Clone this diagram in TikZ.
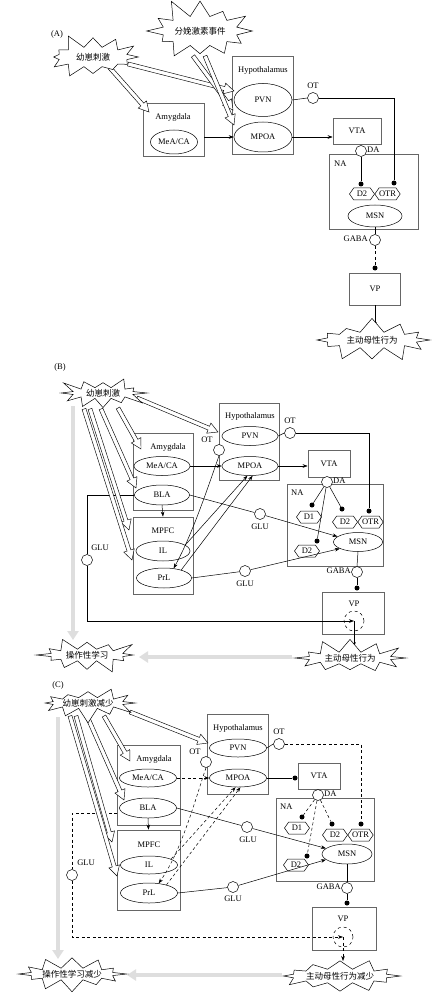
\documentclass[tikz,border=0pt]{standalone}
\usepackage{fontspec}
\setmainfont{Liberation Serif}
\newfontfamily\cjk{Noto Sans CJK SC}
\usetikzlibrary{shapes.geometric,shapes.symbols,arrows.meta,calc}

\tikzset{
 every node/.style={font=\fontsize{8.5}{10}\selectfont, inner sep=0pt},
 box/.style={draw=black!60, line width=0.7pt, rectangle, inner sep=0pt},
 ell/.style={draw, ellipse, line width=0.5pt, inner sep=0pt, fill=white},
 syn/.style={draw, circle, minimum size=11pt, fill=white, line width=0.5pt},
 dsyn/.style={draw, circle, minimum size=20pt, dashed, line width=0.5pt},
 dot/.style={fill=black, circle, minimum size=5pt},
 hex/.style={draw, signal, signal to=east and west, minimum width=25pt, minimum height=12pt, signal pointer angle=110, fill=white, line width=0.5pt},
 burst/.style={draw, starburst, starburst points=12, starburst point height=15pt, random starburst=5, fill=white, line width=0.5pt, font=\cjk\fontsize{8.5}{10}\selectfont},
 ln/.style={line width=0.5pt},
 arr/.style={line width=0.5pt, -{Stealth[length=5pt,width=3.6pt]}},
 dsh/.style={dash pattern=on 3pt off 2.5pt},
 hollowar/.style={draw, fill=white, line width=0.45pt, line join=miter},
 grayar/.style={line width=4pt, draw=black!13, -{Triangle[length=9pt,width=11pt]}},
}

\newcommand{\harr}[2]{%
 \coordinate (hA) at #1; \coordinate (hB) at #2;
 \coordinate (hC) at ($(hB)!10pt!(hA)$);
 \path[hollowar] ($(hA)!2pt!90:(hB)$) -- ($(hC)!2pt!-90:(hA)$) -- ($(hC)!5.5pt!-90:(hA)$) -- (hB) -- ($(hC)!5.5pt!90:(hA)$) -- ($(hC)!2pt!90:(hA)$) -- ($(hA)!2pt!-90:(hB)$) -- cycle;}

\begin{document}
\begin{tikzpicture}[x=1pt,y=-1pt]
\useasboundingbox[fill=white] (0,0) rectangle (437,1000);

%%%%%%%%%%%%%%%% PANEL A
\node (labA) at (57,34) {(A)};
\node[box, minimum width=61pt, minimum height=98pt] (hypA) at (262.5,105) {};
\node (hypAt) at (263,70) {Hypothalamus};
\node[box, minimum width=61pt, minimum height=53pt] (amyA) at (173.5,129.5) {};
\node (amyAt) at (173,117) {Amygdala};
\node[box, minimum width=48pt, minimum height=26pt] (vtaA) at (357,131) {VTA};
\node[box, minimum width=89pt, minimum height=75pt] (naA) at (373.5,191.5) {};
\node[anchor=west] (naAt) at (334,164) {NA};
\node[box, minimum width=51pt, minimum height=32pt] (vpA) at (375,289) {VP};

\node[ell, minimum width=58pt, minimum height=33pt] (pvnA) at (263,100) {PVN};
\node[ell, minimum width=58pt, minimum height=30pt] (mpoaA) at (263,137) {MPOA};
\node[ell, minimum width=47pt, minimum height=24pt] (meaA) at (174,142) {MeA/CA};
\node[ell, minimum width=54pt, minimum height=22pt] (msnA) at (375,216) {MSN};
\node[hex] (d2A) at (362,194) {D2};
\node[hex] (otrA) at (387.5,194) {OTR};
\node[dot] (d2Ad) at (361,184) {};
\node[dot] (otrAd) at (394,183) {};

\node[syn] (otA) at (313,98) {};
\node (otAt) at (313,86) {OT};
\node[syn] (daA) at (361,151) {};
\node[anchor=west] (daAt) at (367,150) {DA};
\node[syn] (gabaA) at (375,240) {};
\node[anchor=east] (gabaAt) at (368,239) {GABA};
\node[dot] (gdA) at (375,268) {};
\coordinate (matAin) at (375,327);

\draw[ln] (pvnA.east) -- (otA.west);
\draw[ln] (otA.east) -| (otrAd.north);
\draw[ln] (daA.south) -- (d2Ad.north);
\draw[arr] (amyA.east |- mpoaA.west) -- (mpoaA.west);
\draw[arr] (mpoaA.east) -- (vtaA.west |- mpoaA.east);
\draw[ln] (msnA.south) -- (gabaA.north);
\draw[ln, dsh] (gabaA.south) -- (gdA.north);
\draw[arr] (vpA.south) -- (matAin);

\harr{(110,68)}{(149,112)}
\harr{(128,64)}{(234,91)}
\harr{(193,56)}{(233,110)}
\harr{(205,56)}{(234,125)}

\node[burst, minimum width=100pt, minimum height=50pt] (kidA) at (93,57) {幼崽刺激};
\node[burst, minimum width=116pt, minimum height=70pt, random starburst=11, starburst point height=20pt] (horA) at (200,31) {分娩激素事件};
\node[burst, minimum width=122pt, minimum height=46pt, random starburst=7] (matA) at (372,340) {主动母性行为};

%%%%%%%%%%%%%%%% PANEL B
\node (labB) at (60,367) {(B)};
\coordinate (gB1) at (73,406); \coordinate (gB2) at (73,640);
\coordinate (gB3) at (292,657); \coordinate (gB4) at (139,657);
\draw[grayar] (gB1) -- (gB2);
\draw[grayar] (gB3) -- (gB4);

\node[box, minimum width=60pt, minimum height=77pt] (hypB) at (249,441.5) {};
\node (hypBt) at (250,416) {Hypothalamus};
\node[box, minimum width=60pt, minimum height=77pt] (amyB) at (163,471.5) {};
\node (amyBt) at (168,447) {Amygdala};
\node[box, minimum width=60pt, minimum height=77pt] (mpfcB) at (163,555.5) {};
\node (mpfcBt) at (163,531) {MPFC};
\node[box, minimum width=42pt, minimum height=27pt] (vtaB) at (329,463.5) {VTA};
\node[box, minimum width=96pt, minimum height=82pt] (naB) at (335,525) {};
\node[anchor=west] (naBt) at (291,493) {NA};
\node[box, minimum width=62pt, minimum height=42pt] (vpB) at (353,613) {};
\node (vpBt) at (354,604) {VP};

\node[ell, minimum width=56pt, minimum height=19pt] (pvnB) at (250,436) {PVN};
\node[ell, minimum width=56pt, minimum height=19pt] (mpoaB) at (250,466) {MPOA};
\node[ell, minimum width=56pt, minimum height=19pt] (meaB) at (162,466) {MeA/CA};
\node[ell, minimum width=55pt, minimum height=20pt] (blaB) at (162,495) {BLA};
\node[ell, minimum width=54pt, minimum height=20pt] (ilB) at (163,551) {IL};
\node[ell, minimum width=55pt, minimum height=20pt] (prlB) at (164,578) {PrL};
\node[ell, minimum width=49pt, minimum height=19pt] (msnB) at (358,542) {MSN};

\node[hex] (d1B) at (309,517) {D1};
\node[hex] (d2rB) at (345,522) {D2};
\node[hex] (otrB) at (370.5,522) {OTR};
\node[hex] (d2lB) at (307,551) {D2};
\node[dot] (d1Bd) at (312,505) {};
\node[dot] (d2rBd) at (342,509) {};
\node[dot] (otrBd) at (369,511) {};
\node[dot] (d2lBd) at (317,541) {};

\node[syn] (otRB) at (290,433) {};
\node (otRBt) at (290,421) {OT};
\node[syn] (otLB) at (219,450) {};
\node (otLBt) at (207,440) {OT};
\node[syn] (daB) at (327,482) {};
\node[anchor=west] (daBt) at (333,481) {DA};
\node[syn] (gluMB) at (260,514) {};
\node (gluMBt) at (260,527) {GLU};
\node[syn] (gluLB) at (245,571) {};
\node (gluLBt) at (245,584) {GLU};
\node[syn] (gluLeftB) at (87,560) {};
\node (gluLeftBt) at (100,548) {GLU};
\node[syn] (gabaB) at (357,572) {};
\node[anchor=east] (gabaBt) at (351,571) {GABA};
\node[dot] (gdB) at (357,588) {};
\node[dsyn] (vpcB) at (354,621) {};
\coordinate (matBin) at (354,647);

\draw[arr] (meaB.east) -- (mpoaB.west);
\draw[arr] (mpoaB.east) -- (vtaB.west |- mpoaB.east);
\draw[ln] (pvnB.east) -- (otRB.west);
\draw[ln] (otRB.east) -| (otrBd.north);
\draw[ln] (daB) -- (d1Bd);
\draw[ln] (daB) -- (d2rBd);
\draw[ln] (daB) -- (d2lBd);
\draw[arr] (blaB.south) -- (mpfcB.north);
\draw[ln] (blaB.east) -- (gluMB);
\draw[arr] (gluMB) -- (msnB.165);
\draw[ln] (prlB.east) -- (gluLB);
\draw[arr] (gluLB) -- (msnB.200);
\draw[ln] (blaB.west) -| (gluLeftB.north);
\draw[arr] (gluLeftB.south) |- (vpcB.center);
\draw[arr] (vpcB.center) -- (matBin);
\draw[ln] (msnB.south) -- (gabaB.north);
\draw[ln] (gabaB.south) -- (gdB.north);
\draw[arr] (ilB.15) -- (mpoaB.255);
\draw[arr] (prlB.25) -- (mpoaB.285);
\draw[arr] (otLB.south) .. controls (207,490) and (192,535) .. (prlB.45);

\harr{(137,398)}{(218,432)}
\harr{(118,408)}{(141,449)}
\harr{(101,409)}{(136,488)}
\harr{(90,409)}{(129,530)}
\harr{(84,409)}{(132,560)}

\node[burst, minimum width=92pt, minimum height=38pt, random starburst=3] (kidB) at (103,393) {幼崽刺激};
\node[burst, minimum width=104pt, minimum height=42pt, random starburst=9] (learnB) at (87,655) {操作性学习};
\node[burst, minimum width=114pt, minimum height=42pt, random starburst=4] (matB) at (350,658) {主动母性行为};

%%%%%%%%%%%%%%%% PANEL C
\node (labC) at (58,685) {(C)};
\coordinate (gC1) at (58,717); \coordinate (gC2) at (58,959);
\coordinate (gC3) at (282,975); \coordinate (gC4) at (127,975);
\draw[grayar] (gC1) -- (gC2);
\draw[grayar] (gC3) -- (gC4);

\node[box, minimum width=61pt, minimum height=80pt] (hypC) at (237.5,754) {};
\node (hypCt) at (238,728) {Hypothalamus};
\node[box, minimum width=63pt, minimum height=80pt] (amyC) at (148.5,785) {};
\node (amyCt) at (154,759) {Amygdala};
\node[box, minimum width=63pt, minimum height=80pt] (mpfcC) at (148.5,870) {};
\node (mpfcCt) at (149,845) {MPFC};
\node[box, minimum width=42pt, minimum height=26pt] (vtaC) at (319,776) {VTA};
\node[box, minimum width=98pt, minimum height=83pt] (naC) at (325,839.5) {};
\node[anchor=west] (naCt) at (280,807) {NA};
\node[box, minimum width=64pt, minimum height=43pt] (vpC) at (344,928.5) {};
\node (vpCt) at (343,919) {VP};

\node[ell, minimum width=57pt, minimum height=18pt] (pvnC) at (238,748) {PVN};
\node[ell, minimum width=57pt, minimum height=18pt] (mpoaC) at (238,778) {MPOA};
\node[ell, minimum width=57pt, minimum height=18pt] (meaC) at (148,778) {MeA/CA};
\node[ell, minimum width=57pt, minimum height=20pt] (blaC) at (148,808) {BLA};
\node[ell, minimum width=57pt, minimum height=18pt] (ilC) at (149,865) {IL};
\node[ell, minimum width=57pt, minimum height=20pt] (prlC) at (149,893) {PrL};
\node[ell, minimum width=50pt, minimum height=20pt] (msnC) at (347,854) {MSN};

\node[hex] (d1C) at (297,828) {D1};
\node[hex] (d2rC) at (335,835) {D2};
\node[hex] (otrC) at (360.5,835) {OTR};
\node[hex] (d2lC) at (296,865) {D2};
\node[dot] (d1Cd) at (302,817) {};
\node[dot] (d2rCd) at (332,824) {};
\node[dot] (otrCd) at (361,824) {};
\node[dot] (d2lCd) at (307,856) {};

\node[syn] (otRC) at (279,744) {};
\node (otRCt) at (279,732) {OT};
\node[syn] (otLC) at (206,762) {};
\node (otLCt) at (195,752) {OT};
\node[syn] (daC) at (318,795) {};
\node[anchor=west] (daCt) at (324,794) {DA};
\node[syn] (gluMC) at (247,827) {};
\node (gluMCt) at (248,840) {GLU};
\node[syn] (gluLC) at (233,887) {};
\node (gluLCt) at (233,899) {GLU};
\node[syn] (gluLeftC) at (72,875) {};
\node (gluLeftCt) at (86,863) {GLU};
\node[syn] (gabaC) at (347,888) {};
\node[anchor=east] (gabaCt) at (341,887) {GABA};
\node[dot] (gdC) at (347,903) {};
\node[dsyn] (vpcC) at (343,937) {};
\node[dot] (vtaCd) at (295,778) {};
\coordinate (matCin) at (343,961);
\coordinate (amyCl) at (117,813);

\draw[arr, dsh] (meaC.east) -- (mpoaC.west);
\draw[ln] (mpoaC.east) -- (vtaCd.west);
\draw[ln] (pvnC.east) -- (otRC.west);
\draw[ln, dsh] (otRC.east) -| (otrCd.north);
\draw[ln, dsh] (daC) -- (d1Cd);
\draw[ln, dsh] (daC) -- (d2rCd);
\draw[ln, dsh] (daC) -- (d2lCd);
\draw[arr] (blaC.south) -- (mpfcC.north);
\draw[ln] (blaC.east) -- (gluMC);
\draw[arr] (gluMC) -- (msnC.165);
\draw[ln] (prlC.east) -- (gluLC);
\draw[arr] (gluLC) -- (msnC.195);
\draw[ln, dsh] (amyCl) -| (gluLeftC.north);
\draw[arr, dsh] (gluLeftC.south) |- (vpcC.center);
\draw[arr, dsh] (vpcC.center) -- (matCin);
\draw[ln] (msnC.south) -- (gabaC.north);
\draw[ln] (gabaC.south) -- (gdC.north);
\draw[arr, dsh] (ilC.15) -- (mpoaC.255);
\draw[arr, dsh] (prlC.25) -- (mpoaC.285);
\draw[arr, dsh] (otLC.south) .. controls (195,800) and (182,850) .. (prlC.45);

\harr{(130,712)}{(208,743)}
\harr{(104,716)}{(130,761)}
\harr{(87,716)}{(124,800)}
\harr{(76,716)}{(112,842)}
\harr{(70,716)}{(117,876)}

\node[burst, minimum width=94pt, minimum height=36pt, random starburst=6] (kidC) at (88,703) {幼崽刺激减少};
\node[burst, minimum width=108pt, minimum height=42pt, random starburst=8] (learnC) at (72,974) {操作性学习减少};
\node[burst, minimum width=118pt, minimum height=44pt, random starburst=2] (matC) at (340,976) {主动母性行为减少};

\end{tikzpicture}
\end{document}
